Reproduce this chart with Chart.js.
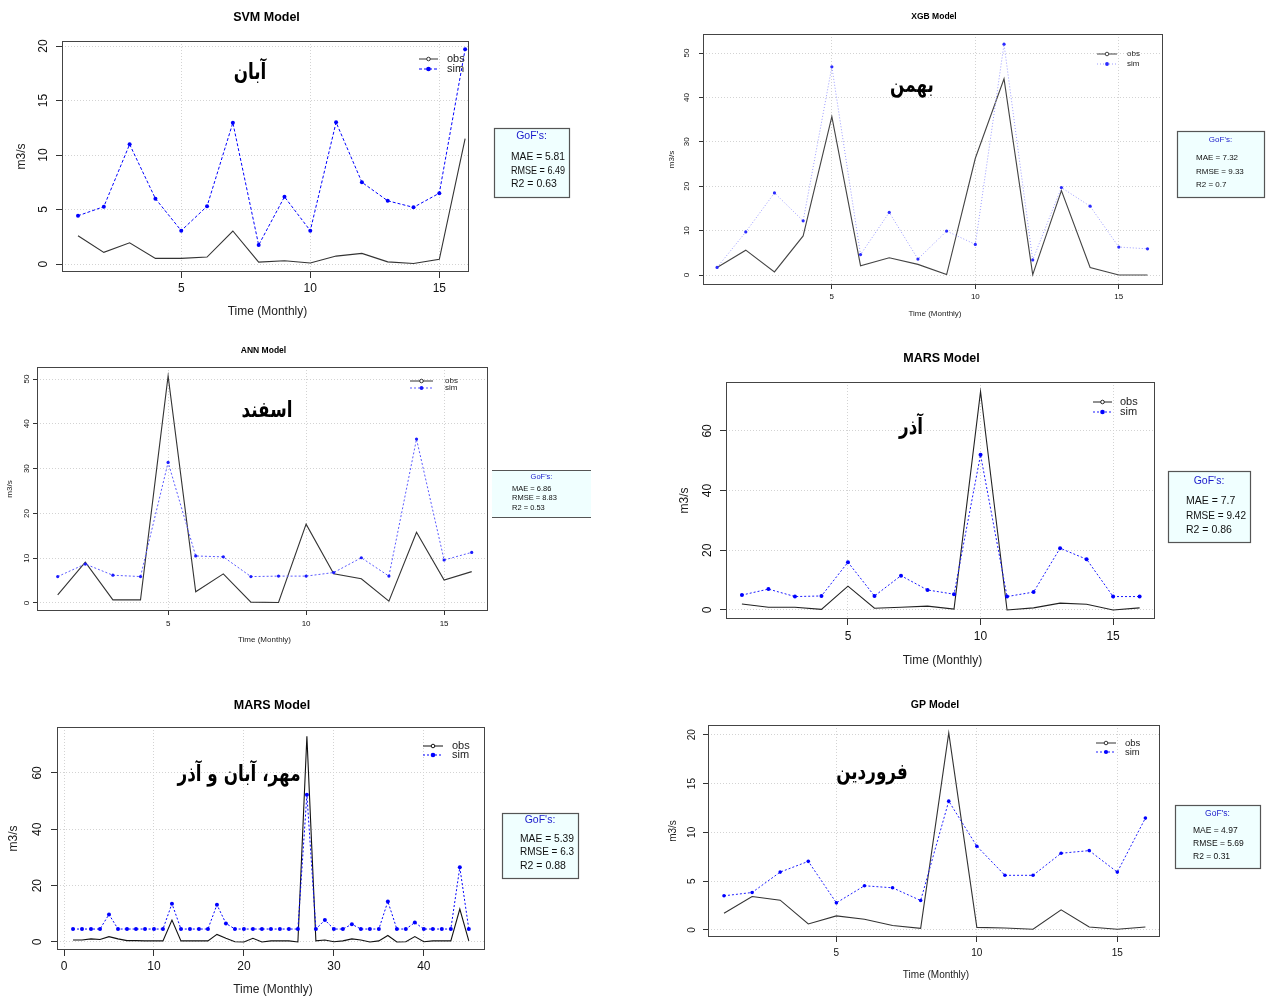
<!DOCTYPE html>
<html>
<head>
<meta charset="utf-8">
<script src="https://cdn.jsdelivr.net/npm/chart.js@4.4.1/dist/chart.umd.min.js"></script>
<style>
	body { margin: 0; background: #fff; width: 1266px; height: 998px; position: relative; overflow: hidden; }
	canvas { position: absolute; }
</style>
</head>
<body>
<script>
// months on the x axis
var months16 = [1, 2, 3, 4, 5, 6, 7, 8, 9, 10, 11, 12, 13, 14, 15, 16];
var months45 = [1, 2, 3, 4, 5, 6, 7, 8, 9, 10, 11, 12, 13, 14, 15, 16, 17, 18, 19, 20,
	21, 22, 23, 24, 25, 26, 27, 28, 29, 30, 31, 32, 33, 34, 35, 36, 37, 38, 39, 40,
	41, 42, 43, 44, 45];

// SVM - Aban
var svmObs = [2.6, 1.07, 1.95, 0.52, 0.52, 0.64, 3.03, 0.18, 0.3, 0.09, 0.73, 0.98, 0.2, 0.05, 0.43, 11.5];
var svmSim = [4.43, 5.26, 10.98, 6.0, 3.06, 5.3, 12.96, 1.74, 6.17, 3.06, 13.0, 7.5, 5.8, 5.2, 6.5, 19.7];
// XGB - Bahman
var xgbObs = [1.7, 5.6, 0.7, 8.8, 35.7, 2.1, 3.9, 2.4, 0.1, 26.3, 44.2, 0.1, 19.0, 1.7, 0, 0];
var xgbSim = [1.7, 9.7, 18.5, 12.2, 46.9, 4.6, 14.1, 3.6, 9.9, 6.9, 52.0, 3.4, 19.7, 15.5, 6.3, 5.9];
// ANN - Esfand
var annObs = [1.8, 9.1, 0.7, 0.7, 50.7, 2.5, 6.5, 0.2, 0.1, 17.6, 6.5, 5.4, 0.4, 15.8, 5.1, 7.0];
var annSim = [5.9, 8.7, 6.2, 5.9, 31.4, 10.5, 10.3, 5.9, 6.0, 6.0, 6.8, 10.1, 6.0, 36.6, 9.6, 11.3];
// MARS - Azar
var marsObs = [2.0, 0.9, 0.9, 0.2, 8.0, 0.6, 0.9, 1.3, 0.3, 73.2, 0, 0.7, 2.3, 1.9, 0, 0.7];
var marsSim = [5.0, 7.0, 4.5, 4.7, 16.0, 4.7, 11.5, 6.7, 5.3, 52.0, 4.5, 6.0, 20.7, 17.0, 4.5, 4.5];
// MARS - Mehr, Aban, Azar
var mars45Obs = [0.7, 0.7, 1.1, 0.9, 1.9, 1.1, 0.5, 0.5, 0.4, 0.4,
	0.4, 7.8, 0.4, 0.4, 0.4, 0.4, 2.7, 1.3, 0.1, 0,
	1.3, 0, 0.4, 0.4, 0.4, 0, 73, 0.4, 0.7, 0.1,
	0.4, 1.1, 0.7, 0, 0.4, 2.3, 0, 0.1, 1.9, 0.1,
	0.4, 0.4, 0.4, 11.7, 0.4];
var mars45Sim = [4.6, 4.6, 4.6, 4.6, 9.8, 4.6, 4.6, 4.6, 4.6, 4.6,
	4.6, 13.6, 4.6, 4.6, 4.6, 4.6, 13.2, 6.6, 4.6, 4.6,
	4.6, 4.6, 4.6, 4.6, 4.6, 4.6, 52.3, 4.6, 7.8, 4.6,
	4.6, 6.3, 4.6, 4.6, 4.6, 14.4, 4.6, 4.6, 6.9, 4.6,
	4.6, 4.6, 4.6, 26.5, 4.6];
// GP - Farvardin
var gpObs = [1.72, 3.43, 3.05, 0.62, 1.44, 1.1, 0.45, 0.17, 20.2, 0.27, 0.2, 0.07, 2.06, 0.3, 0.07, 0.3];
var gpSim = [3.5, 3.84, 5.93, 7.03, 2.78, 4.53, 4.32, 3.02, 13.2, 8.58, 5.6, 5.6, 7.86, 8.13, 5.93, 11.46];

// tick labels
var xTicks16 = [5, 10, 15];
var xTicks45 = [0, 10, 20, 30, 40];
var yTicksSvm = [0, 5, 10, 15, 20];
var yTicksXgb = [0, 10, 20, 30, 40, 50];
var yTicksAnn = [0, 10, 20, 30, 40, 50];
var yTicksMars = [0, 20, 40, 60];
var yTicksGp = [0, 5, 10, 15, 20];

// goodness of fit boxes
var gofSvm = ["MAE = 5.81", "RMSE = 6.49", "R2 = 0.63"];
var gofXgb = ["MAE = 7.32", "RMSE = 9.33", "R2 = 0.7"];
var gofAnn = ["MAE = 6.86", "RMSE = 8.83", "R2 = 0.53"];
var gofMars = ["MAE = 7.7", "RMSE = 9.42", "R2 = 0.86"];
var gofMars45 = ["MAE = 5.39", "RMSE = 6.3", "R2 = 0.88"];
var gofGp = ["MAE = 4.97", "RMSE = 5.69", "R2 = 0.31"];

var FONT = '"Liberation Sans", Arial, sans-serif';

var panels = [
	{
		title: "SVM Model", label: "آبان", x: months16, obs: svmObs, sim: svmSim,
		xTicks: xTicks16, yTicks: yTicksSvm, gof: gofSvm,
		canvas: [0, 0, 633, 333], box: [62, 41, 469, 272], tl: 6,
		xMin: 0.38, xMax: 16.15, yMin: -0.73, yMax: 20.46,
		fs: 12, titleY: 18, yLabX: 44, xLabY: 289, yTitleX: 22, xTitleY: 312,
		obsColor: "#333", simColor: "#0000ff", ptColor: "#0000ff", simDash: [3, 2], pr: 2,
		leg: { x1: 419, x2: 438, tx: 447, y1: 59, y2: 69, fs: 11 },
		lab: { x: 250, y: 73 },
		gofBox: { l: 494, t: 128, r: 569, b: 197, head: 136, tx: 511, ys: [157, 171, 184], fs: 10.5, sides: true }
	},
	{
		title: "XGB Model", label: "بهمن", x: months16, obs: xgbObs, sim: xgbSim,
		xTicks: xTicks16, yTicks: yTicksXgb, gof: gofXgb,
		canvas: [633, 0, 633, 333], box: [703, 34, 1163, 285], tl: 4,
		xMin: 0.51, xMax: 16.54, yMin: -2.25, yMax: 54.3,
		fs: 8, titleY: 17, yLabX: 687, xLabY: 297, yTitleX: 672, xTitleY: 314,
		obsColor: "#444", simColor: "#9a9aff", ptColor: "#2a2aff", simDash: [1, 2], pr: 1.6,
		leg: { x1: 1097, x2: 1117, tx: 1127, y1: 54, y2: 64, fs: 8 },
		lab: { x: 912, y: 86 },
		gofBox: { l: 1177, t: 131, r: 1264, b: 197, head: 140, tx: 1196, ys: [158, 172, 185], fs: 8, sides: true }
	},
	{
		title: "ANN Model", label: "اسفند", x: months16, obs: annObs, sim: annSim,
		xTicks: xTicks16, yTicks: yTicksAnn, gof: gofAnn,
		canvas: [0, 333, 633, 347], box: [37, 367, 488, 611], tl: 4,
		xMin: 0.25, xMax: 16.59, yMin: -1.79, yMax: 52.7,
		fs: 8, titleY: 351, yLabX: 27, xLabY: 624, yTitleX: 10, xTitleY: 640,
		obsColor: "#333", simColor: "#5a5aff", ptColor: "#1a1aff", simDash: [2, 2], pr: 1.6,
		leg: { x1: 410, x2: 433, tx: 445, y1: 381, y2: 388, fs: 8 },
		lab: { x: 267, y: 411 },
		gofBox: { l: 492, t: 470, r: 591, b: 517, head: 477, tx: 512, ys: [489, 498, 508], fs: 7.5, sides: false }
	},
	{
		title: "MARS Model", label: "آذر", x: months16, obs: marsObs, sim: marsSim,
		xTicks: xTicks16, yTicks: yTicksMars, gof: gofMars,
		canvas: [633, 333, 633, 347], box: [726, 382, 1155, 619], tl: 6,
		xMin: 0.4, xMax: 16.58, yMin: -3.02, yMax: 76.4,
		fs: 12, titleY: 359, yLabX: 708, xLabY: 637, yTitleX: 685, xTitleY: 661,
		obsColor: "#222", simColor: "#1a1aff", ptColor: "#0000ff", simDash: [2, 2], pr: 2,
		leg: { x1: 1093, x2: 1112, tx: 1120, y1: 402, y2: 412, fs: 11 },
		lab: { x: 911, y: 428 },
		gofBox: { l: 1168, t: 471, r: 1250, b: 542, head: 481, tx: 1186, ys: [501, 516, 530], fs: 10.5, sides: true }
	},
	{
		title: "MARS Model", label: "مهر، آبان و آذر", x: months45, obs: mars45Obs, sim: mars45Sim,
		xTicks: xTicks45, yTicks: yTicksMars, gof: gofMars45,
		canvas: [0, 680, 633, 318], box: [57, 727, 485, 950], tl: 6,
		xMin: -0.78, xMax: 46.8, yMin: -2.84, yMax: 76.3,
		fs: 12, titleY: 706, yLabX: 38, xLabY: 967, yTitleX: 14, xTitleY: 990,
		obsColor: "#111", simColor: "#0000ff", ptColor: "#0000ff", simDash: [2, 2], pr: 2,
		leg: { x1: 423, x2: 443, tx: 452, y1: 746, y2: 755, fs: 11 },
		lab: { x: 239, y: 775 },
		gofBox: { l: 502, t: 813, r: 578, b: 878, head: 820, tx: 520, ys: [839, 852, 866], fs: 10.5, sides: true }
	},
	{
		title: "GP Model", label: "فروردین", x: months16, obs: gpObs, sim: gpSim,
		xTicks: xTicks16, yTicks: yTicksGp, gof: gofGp,
		canvas: [633, 680, 633, 318], box: [708, 725, 1160, 937], tl: 5,
		xMin: 0.43, xMax: 16.52, yMin: -0.72, yMax: 21.0,
		fs: 10, titleY: 705, yLabX: 692, xLabY: 953, yTitleX: 673, xTitleY: 975,
		obsColor: "#333", simColor: "#2020ff", ptColor: "#0000ff", simDash: [2, 2], pr: 1.8,
		leg: { x1: 1096, x2: 1116, tx: 1125, y1: 743, y2: 752, fs: 9.5 },
		lab: { x: 872, y: 773 },
		gofBox: { l: 1175, t: 805, r: 1260, b: 868, head: 814, tx: 1193, ys: [831, 844, 857], fs: 8.5, sides: true }
	}
];

// draws the R-like frame, labels, legend and GoF box on top of each chart
function rStyle(p) {
	return {
		id: "rStyle",
		afterDraw: function (chart) {
			var ctx = chart.ctx;
			var a = chart.chartArea;
			var ox = p.canvas[0], oy = p.canvas[1];
			var xs = chart.scales.x, ys = chart.scales.y;
			ctx.save();

			// frame
			ctx.setLineDash([]);
			ctx.strokeStyle = "#444";
			ctx.lineWidth = 1;
			ctx.strokeRect(a.left + 0.5, a.top + 0.5, a.right - a.left - 1, a.bottom - a.top - 1);

			// tick labels
			ctx.fillStyle = "#111";
			ctx.textAlign = "center";
			ctx.textBaseline = "middle";
			ctx.font = p.fs + "px " + FONT;
			xs.ticks.forEach(function (t) {
				ctx.fillText(String(t.value), xs.getPixelForValue(t.value), p.xLabY - oy);
			});
			ys.ticks.forEach(function (t) {
				ctx.save();
				ctx.translate(p.yLabX - ox, ys.getPixelForValue(t.value));
				ctx.rotate(-Math.PI / 2);
				ctx.fillText(String(t.value), 0, 0);
				ctx.restore();
			});

			// titles
			var cx = (p.box[0] + p.box[2]) / 2 - ox;
			ctx.fillStyle = "#000";
			ctx.font = "bold " + (p.fs + 0.5) + "px " + FONT;
			ctx.fillText(p.title, cx + 1, p.titleY - oy);
			ctx.fillStyle = "#222";
			ctx.font = p.fs + "px " + FONT;
			ctx.fillText("Time (Monthly)", cx + 2, p.xTitleY - oy);
			ctx.save();
			ctx.translate(p.yTitleX - ox, (p.box[1] + p.box[3]) / 2 - oy);
			ctx.rotate(-Math.PI / 2);
			ctx.fillText("m3/s", 0, 0);
			ctx.restore();

			// legend
			var L = p.leg;
			var mx = (L.x1 + L.x2) / 2 - ox;
			ctx.lineWidth = 1;
			ctx.strokeStyle = p.obsColor;
			ctx.beginPath();
			ctx.moveTo(L.x1 - ox, L.y1 - oy);
			ctx.lineTo(L.x2 - ox, L.y1 - oy);
			ctx.stroke();
			ctx.beginPath();
			ctx.arc(mx, L.y1 - oy, 1.8, 0, Math.PI * 2);
			ctx.fillStyle = "#fff";
			ctx.fill();
			ctx.stroke();
			ctx.strokeStyle = p.simColor;
			ctx.setLineDash(p.simDash);
			ctx.beginPath();
			ctx.moveTo(L.x1 - ox, L.y2 - oy);
			ctx.lineTo(L.x2 - ox, L.y2 - oy);
			ctx.stroke();
			ctx.setLineDash([]);
			ctx.fillStyle = p.ptColor;
			ctx.beginPath();
			ctx.arc(mx, L.y2 - oy, p.pr + 0.3, 0, Math.PI * 2);
			ctx.fill();
			ctx.fillStyle = "#222";
			ctx.textAlign = "left";
			ctx.font = L.fs + "px " + FONT;
			ctx.fillText("obs", L.tx - ox, L.y1 - oy);
			ctx.fillText("sim", L.tx - ox, L.y2 - oy);

			// month name (squeezed a bit to match the narrower original face)
			ctx.save();
			ctx.fillStyle = "#000";
			ctx.textAlign = "center";
			ctx.font = "bold 21px \"DejaVu Sans\", \"Noto Sans\", sans-serif";
			ctx.translate(p.lab.x - ox, p.lab.y - oy);
			ctx.scale(0.8, 1.05);
			ctx.fillText(p.label, 0, 0);
			ctx.restore();

			// GoF box
			var g = p.gofBox;
			ctx.fillStyle = "#f0ffff";
			ctx.fillRect(g.l - ox, g.t - oy, g.r - g.l, g.b - g.t);
			ctx.strokeStyle = "#555";
			ctx.lineWidth = 1.2;
			if (g.sides) {
				ctx.strokeRect(g.l - ox + 0.5, g.t - oy + 0.5, g.r - g.l, g.b - g.t);
			} else {
				ctx.beginPath();
				ctx.moveTo(g.l - ox, g.t - oy + 0.5);
				ctx.lineTo(g.r - ox, g.t - oy + 0.5);
				ctx.moveTo(g.l - ox, g.b - oy + 0.5);
				ctx.lineTo(g.r - ox, g.b - oy + 0.5);
				ctx.stroke();
			}
			ctx.font = g.fs + "px " + FONT;
			ctx.fillStyle = "#1a1acc";
			ctx.textAlign = "center";
			ctx.fillText("GoF's:", (g.l + g.r) / 2 - ox, g.head - oy);
			ctx.fillStyle = "#111";
			ctx.textAlign = "left";
			for (var i = 0; i < p.gof.length; i++) {
				ctx.fillText(p.gof[i], g.tx - ox, g.ys[i] - oy, g.r - g.tx - 4);
			}
			ctx.restore();
		}
	};
}

panels.forEach(function (p) {
	var cv = document.createElement("canvas");
	cv.width = p.canvas[2];
	cv.height = p.canvas[3];
	cv.style.left = p.canvas[0] + "px";
	cv.style.top = p.canvas[1] + "px";
	document.body.appendChild(cv);

	var grid = {
		color: "#d3d3d3",
		lineWidth: 1,
		drawTicks: true,
		tickLength: p.tl,
		tickColor: "#333",
		tickWidth: 1,
		tickBorderDash: []
	};

	new Chart(cv.getContext("2d"), {
		type: "line",
		data: {
			datasets: [
				{
					label: "sim",
					data: p.x.map(function (m, i) { return { x: m, y: p.sim[i] }; }),
					borderColor: p.simColor,
					backgroundColor: p.ptColor,
					pointBackgroundColor: p.ptColor,
					borderWidth: 1,
					borderDash: p.simDash,
					pointRadius: p.pr,
					pointBorderWidth: 0,
					tension: 0
				},
				{
					label: "obs",
					data: p.x.map(function (m, i) { return { x: m, y: p.obs[i] }; }),
					borderColor: p.obsColor,
					borderWidth: 1.1,
					pointRadius: 0,
					tension: 0
				}
			]
		},
		options: {
			responsive: false,
			animation: false,
			events: [],
			layout: {
				padding: {
					left: p.box[0] - p.canvas[0] - p.tl,
					top: p.box[1] - p.canvas[1],
					right: p.canvas[0] + p.canvas[2] - p.box[2],
					bottom: p.canvas[1] + p.canvas[3] - p.box[3] - p.tl
				}
			},
			plugins: {
				legend: { display: false },
				title: { display: false },
				tooltip: { enabled: false }
			},
			scales: {
				x: {
					type: "linear",
					min: p.xMin,
					max: p.xMax,
					afterBuildTicks: function (s) { s.ticks = p.xTicks.map(function (v) { return { value: v }; }); },
					afterFit: function (s) { s.height = p.tl; },
					ticks: { display: false },
					grid: grid,
					border: { display: false, dash: [1, 2] }
				},
				y: {
					type: "linear",
					min: p.yMin,
					max: p.yMax,
					afterBuildTicks: function (s) { s.ticks = p.yTicks.map(function (v) { return { value: v }; }); },
					afterFit: function (s) { s.width = p.tl; },
					ticks: { display: false },
					grid: grid,
					border: { display: false, dash: [1, 2] }
				}
			}
		},
		plugins: [rStyle(p)]
	});
});
</script>
</body>
</html>
